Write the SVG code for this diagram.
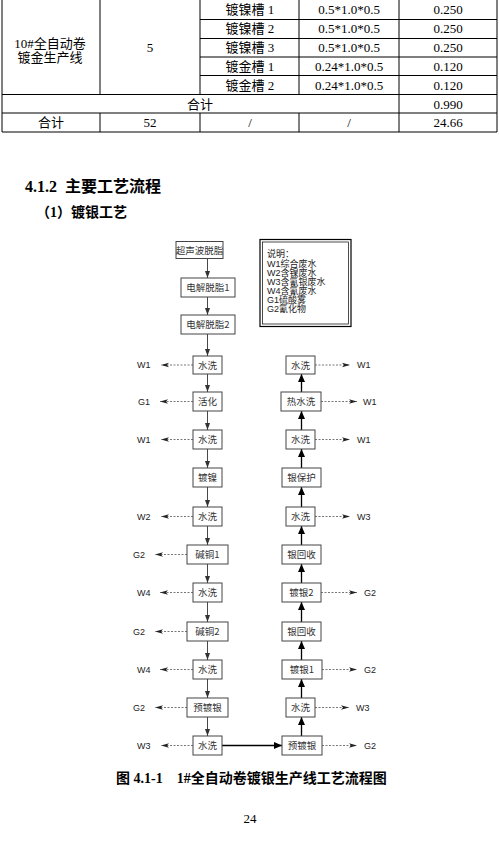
<svg xmlns="http://www.w3.org/2000/svg" width="499" height="842" viewBox="0 0 499 842">
<defs>
<style>
.tl{stroke:#000;stroke-width:1;fill:none}
.tt{font-family:"Liberation Serif","Noto Sans CJK SC",serif;font-size:13px;fill:#000;text-anchor:middle}
.h{font-family:"Liberation Serif","Noto Sans CJK SC",serif;font-weight:bold;fill:#000}
.box{fill:#fff;stroke:#444;stroke-width:1}
.bt{font-family:"Noto Sans CJK SC",sans-serif;font-size:9.5px;fill:#333;text-anchor:middle}
.lab{font-family:"Liberation Sans","Noto Sans CJK SC",sans-serif;font-size:9px;fill:#222}
.dl{stroke:#555;stroke-width:0.8;stroke-dasharray:2,1.5;fill:none}
.dn{stroke:#333;stroke-width:0.9;fill:none}
.up{stroke:#000;stroke-width:1.3;fill:none}
.lg{font-family:"Liberation Sans","Noto Sans CJK SC",sans-serif;font-size:9px;fill:#222}
</style>
<marker id="as" markerWidth="8" markerHeight="6" refX="7" refY="3" orient="auto" markerUnits="userSpaceOnUse"><path d="M0,0.5 L7,3 L0,5.5 Z" fill="#333"/></marker>
<marker id="ab" markerWidth="9" markerHeight="8" refX="8" refY="4" orient="auto" markerUnits="userSpaceOnUse"><path d="M0,0.5 L8,4 L0,7.5 Z" fill="#000"/></marker>
<marker id="ad" markerWidth="9" markerHeight="6" refX="8" refY="3" orient="auto" markerUnits="userSpaceOnUse"><path d="M0,0.8 L8,3 L0,5.2 L2,3 Z" fill="#222"/></marker>
</defs>
<rect width="499" height="842" fill="#fff"/>

<g id="table">
<path class="tl" d="M2,0V132 M100,0V94 M100,113V132 M200,0V94 M200,113V132 M299,0V94 M299,113V132 M399,0V132 M497,0V132 M200,19.5H497 M200,38.5H497 M200,57H497 M200,75.5H497 M2,94.5H497 M2,113H497 M2,132H497"/>
<text class="tt" x="50" y="47.5">10#全自动卷</text>
<text class="tt" x="50" y="62">镀金生产线</text>
<text class="tt" x="150" y="52">5</text>
<text class="tt" x="250" y="14">镀镍槽 1</text>
<text class="tt" x="250" y="33">镀镍槽 2</text>
<text class="tt" x="250" y="52">镀镍槽 3</text>
<text class="tt" x="250" y="70.5">镀金槽 1</text>
<text class="tt" x="250" y="89.5">镀金槽 2</text>
<text class="tt" x="349" y="14">0.5*1.0*0.5</text>
<text class="tt" x="349" y="33">0.5*1.0*0.5</text>
<text class="tt" x="349" y="52">0.5*1.0*0.5</text>
<text class="tt" x="349" y="70.5">0.24*1.0*0.5</text>
<text class="tt" x="349" y="89.5">0.24*1.0*0.5</text>
<text class="tt" x="448" y="14">0.250</text>
<text class="tt" x="448" y="33">0.250</text>
<text class="tt" x="448" y="52">0.250</text>
<text class="tt" x="448" y="70.5">0.120</text>
<text class="tt" x="448" y="89.5">0.120</text>
<text class="tt" x="200" y="108.5">合计</text>
<text class="tt" x="448" y="108.5">0.990</text>
<text class="tt" x="51" y="127">合计</text>
<text class="tt" x="150" y="127">52</text>
<text class="tt" x="250" y="127">/</text>
<text class="tt" x="349" y="127">/</text>
<text class="tt" x="448" y="127">24.66</text>
</g>

<text class="h" x="25" y="192" font-size="16" xml:space="preserve">4.1.2  主要工艺流程</text>
<text class="h" x="36" y="217" font-size="14">（1）镀银工艺</text>

<g id="connectors">
<path class="dn" d="M207.5,258V278" marker-end="url(#as)"/>
<path class="dn" d="M207.5,297V315" marker-end="url(#as)"/>
<path class="dn" d="M207.5,334V356" marker-end="url(#as)"/>
<path class="dn" d="M207.5,374V392" marker-end="url(#as)"/>
<path class="dn" d="M207.5,411V430" marker-end="url(#as)"/>
<path class="dn" d="M207.5,449V468" marker-end="url(#as)"/>
<path class="dn" d="M207.5,487V507" marker-end="url(#as)"/>
<path class="dn" d="M207.5,526V545" marker-end="url(#as)"/>
<path class="dn" d="M207.5,564V583" marker-end="url(#as)"/>
<path class="dn" d="M207.5,602V622" marker-end="url(#as)"/>
<path class="dn" d="M207.5,641V660" marker-end="url(#as)"/>
<path class="dn" d="M207.5,679V698" marker-end="url(#as)"/>
<path class="dn" d="M207.5,717V736" marker-end="url(#as)"/>
<path class="up" d="M222,745.5H282" marker-end="url(#ab)"/>
<path class="up" d="M301.5,736V717" marker-end="url(#ab)"/>
<path class="up" d="M301.5,698V679" marker-end="url(#ab)"/>
<path class="up" d="M301.5,660V641" marker-end="url(#ab)"/>
<path class="up" d="M301.5,622V602" marker-end="url(#ab)"/>
<path class="up" d="M301.5,583V564" marker-end="url(#ab)"/>
<path class="up" d="M301.5,545V526" marker-end="url(#ab)"/>
<path class="up" d="M301.5,507V487" marker-end="url(#ab)"/>
<path class="up" d="M301.5,468V449" marker-end="url(#ab)"/>
<path class="up" d="M301.5,430V411" marker-end="url(#ab)"/>
<path class="up" d="M301.5,392V374" marker-end="url(#ab)"/>
<path class="dl" d="M193,365H161" marker-end="url(#ad)"/>
<path class="dl" d="M193,401.5H160" marker-end="url(#ad)"/>
<path class="dl" d="M193,439.5H161" marker-end="url(#ad)"/>
<path class="dl" d="M193,516.5H161" marker-end="url(#ad)"/>
<path class="dl" d="M187,554.5H155" marker-end="url(#ad)"/>
<path class="dl" d="M193,592.5H160" marker-end="url(#ad)"/>
<path class="dl" d="M187,631.5H155" marker-end="url(#ad)"/>
<path class="dl" d="M193,669.5H160" marker-end="url(#ad)"/>
<path class="dl" d="M187,707.5H155" marker-end="url(#ad)"/>
<path class="dl" d="M193,745.5H161" marker-end="url(#ad)"/>
<path class="dl" d="M315,365H350" marker-end="url(#ad)"/>
<path class="dl" d="M321,401.5H357" marker-end="url(#ad)"/>
<path class="dl" d="M315,439.5H350" marker-end="url(#ad)"/>
<path class="dl" d="M315,516.5H350" marker-end="url(#ad)"/>
<path class="dl" d="M321,592.5H357" marker-end="url(#ad)"/>
<path class="dl" d="M322,669.5H357" marker-end="url(#ad)"/>
<path class="dl" d="M315,707.5H349" marker-end="url(#ad)"/>
<path class="dl" d="M322,745.5H357" marker-end="url(#ad)"/>
</g>

<g id="labels">
<text class="lab" x="137" y="368">W1</text>
<text class="lab" x="138" y="404.5">G1</text>
<text class="lab" x="137" y="442.5">W1</text>
<text class="lab" x="137" y="519.5">W2</text>
<text class="lab" x="133" y="557.5">G2</text>
<text class="lab" x="137" y="595.5">W4</text>
<text class="lab" x="133" y="634.5">G2</text>
<text class="lab" x="137" y="672.5">W4</text>
<text class="lab" x="133" y="710.5">G2</text>
<text class="lab" x="137" y="748.5">W3</text>
<text class="lab" x="357" y="368">W1</text>
<text class="lab" x="363" y="404.5">W1</text>
<text class="lab" x="357" y="442.5">W1</text>
<text class="lab" x="357" y="519.5">W3</text>
<text class="lab" x="364" y="595.5">G2</text>
<text class="lab" x="364" y="672.5">G2</text>
<text class="lab" x="356" y="710.5">W3</text>
<text class="lab" x="364" y="748.5">G2</text>
</g>

<g id="legend">
<rect x="260" y="239.5" width="91" height="87" fill="#fff" stroke="#000" stroke-width="1.2"/>
<rect x="262.5" y="242" width="86" height="82" fill="none" stroke="#000" stroke-width="0.7"/>
<text class="lg" x="267" y="257">说明：</text>
<text class="lg" x="267" y="266.5">W1综合废水</text>
<text class="lg" x="267" y="275.5">W2含镍废水</text>
<text class="lg" x="267" y="284.5">W3含氰银废水</text>
<text class="lg" x="267" y="293.5">W4含氰废水</text>
<text class="lg" x="267" y="303">G1硫酸雾</text>
<text class="lg" x="267" y="312">G2氰化物</text>
</g>

<g id="n1"><rect class="box" x="176" y="241.5" width="47" height="17"/><text class="bt" x="199.5" y="253.5">超声波脱脂</text></g>
<g id="n2"><rect class="box" x="181" y="278" width="54" height="19"/><text class="bt" x="208" y="291">电解脱脂1</text></g>
<g id="n3"><rect class="box" x="181" y="315" width="54" height="19"/><text class="bt" x="208" y="328">电解脱脂2</text></g>
<g id="n4"><rect class="box" x="193" y="356" width="29" height="18"/><text class="bt" x="207.5" y="368.5">水洗</text></g>
<g id="n5"><rect class="box" x="193" y="392" width="29" height="19"/><text class="bt" x="207.5" y="405">活化</text></g>
<g id="n6"><rect class="box" x="193" y="430" width="29" height="19"/><text class="bt" x="207.5" y="443">水洗</text></g>
<g id="n7"><rect class="box" x="193" y="468" width="29" height="19"/><text class="bt" x="207.5" y="481">镀镍</text></g>
<g id="n8"><rect class="box" x="193" y="507" width="29" height="19"/><text class="bt" x="207.5" y="520">水洗</text></g>
<g id="n9"><rect class="box" x="187" y="545" width="41" height="19"/><text class="bt" x="207.5" y="558">碱铜1</text></g>
<g id="n10"><rect class="box" x="193" y="583" width="29" height="19"/><text class="bt" x="207.5" y="596">水洗</text></g>
<g id="n11"><rect class="box" x="187" y="622" width="41" height="19"/><text class="bt" x="207.5" y="635">碱铜2</text></g>
<g id="n12"><rect class="box" x="193" y="660" width="29" height="19"/><text class="bt" x="207.5" y="673">水洗</text></g>
<g id="n13"><rect class="box" x="187" y="698" width="41" height="19"/><text class="bt" x="207.5" y="711">预镀银</text></g>
<g id="n14"><rect class="box" x="193" y="736" width="29" height="19"/><text class="bt" x="207.5" y="749">水洗</text></g>

<g id="r1"><rect class="box" x="282" y="736" width="40" height="19"/><text class="bt" x="302" y="749">预镀银</text></g>
<g id="r2"><rect class="box" x="286" y="698" width="29" height="19"/><text class="bt" x="300.5" y="711">水洗</text></g>
<g id="r3"><rect class="box" x="282" y="660" width="40" height="19"/><text class="bt" x="302" y="673">镀银1</text></g>
<g id="r4"><rect class="box" x="282" y="622" width="39" height="19"/><text class="bt" x="301.5" y="635">银回收</text></g>
<g id="r5"><rect class="box" x="282" y="583" width="39" height="19"/><text class="bt" x="301.5" y="596">镀银2</text></g>
<g id="r6"><rect class="box" x="282" y="545" width="39" height="19"/><text class="bt" x="301.5" y="558">银回收</text></g>
<g id="r7"><rect class="box" x="286" y="507" width="29" height="19"/><text class="bt" x="300.5" y="520">水洗</text></g>
<g id="r8"><rect class="box" x="282" y="468" width="39" height="19"/><text class="bt" x="301.5" y="481">银保护</text></g>
<g id="r9"><rect class="box" x="286" y="430" width="29" height="19"/><text class="bt" x="300.5" y="443">水洗</text></g>
<g id="r10"><rect class="box" x="281" y="392" width="40" height="19"/><text class="bt" x="301" y="405">热水洗</text></g>
<g id="r11"><rect class="box" x="286" y="356" width="29" height="18"/><text class="bt" x="300.5" y="368.5">水洗</text></g>

<text class="h" x="116" y="783" font-size="14" xml:space="preserve">图 4.1-1　1#全自动卷镀银生产线工艺流程图</text>
<text class="tt" x="250" y="823">24</text>
</svg>
